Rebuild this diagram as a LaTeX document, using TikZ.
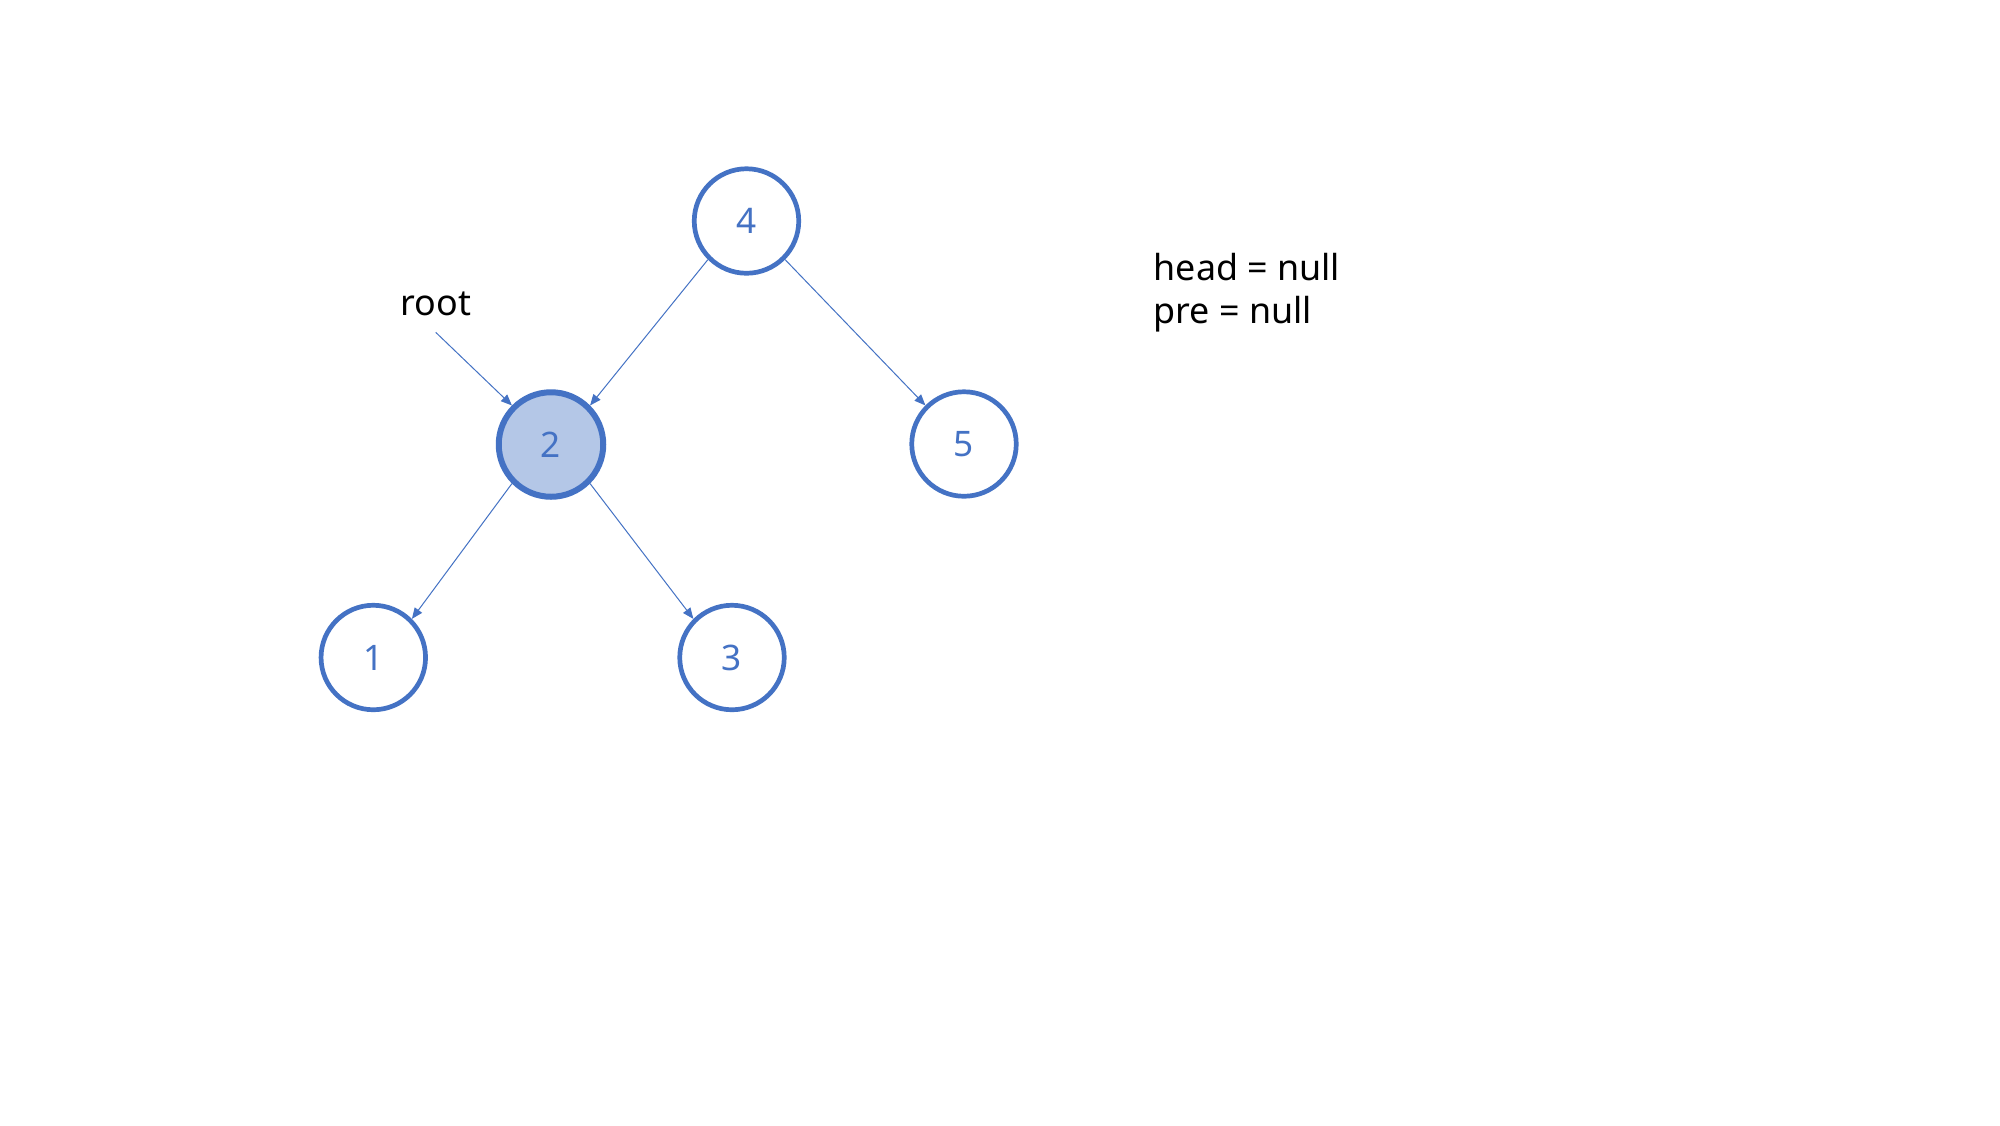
\documentclass[tikz,border=0pt]{standalone}
\usepackage{fontspec}
\setmainfont{Noto Sans}
\usetikzlibrary{arrows.meta}
\definecolor{nodeblue}{HTML}{4472C4}
\definecolor{nodefill}{HTML}{B4C7E7}
\tikzset{
  treenode/.style={circle, draw=nodeblue, line width=0.047cm, minimum size=1.045cm, inner sep=0pt, fill=white, text=nodeblue, font=\fontsize{10}{12}\selectfont},
  curnode/.style={treenode, fill=nodefill, line width=0.06cm},
  edge/.style={draw=nodeblue, line width=0.01cm, -{Triangle[length=0.11cm, width=0.09cm]}},
  label/.style={font=\fontsize{10.2}{12}\selectfont, text=black, inner sep=0pt}
}
\begin{document}
\begin{tikzpicture}
\useasboundingbox (0,0) rectangle (20,-11.25);
\fill[white] (0,0) rectangle (20,-11.25);
\node[treenode] (n4) at (7.465,-2.21) {4};
\node[curnode] (n2) at (5.51,-4.445) {2};
\node[treenode] (n5) at (9.64,-4.44) {5};
\node[treenode] (n1) at (3.733,-6.575) {1};
\node[treenode] (n3) at (7.32,-6.575) {3};
\node[label, anchor=base] (root) at (4.358,-3.15) {root};
\coordinate (rootstart) at (4.357,-3.323);
\node[label, anchor=base west] (head) at (11.53,-2.80) {head = null};
\node[label, anchor=base west] (pre) at (11.53,-3.23) {pre = null};
\draw[edge] (n4.south west) -- (n2.north east);
\draw[edge] (n4.south east) -- (n5.north west);
\draw[edge] (n2.south west) -- (n1.north east);
\draw[edge] (n2.south east) -- (n3.north west);
\draw[edge] (rootstart) -- (n2.north west);
\end{tikzpicture}
\end{document}
